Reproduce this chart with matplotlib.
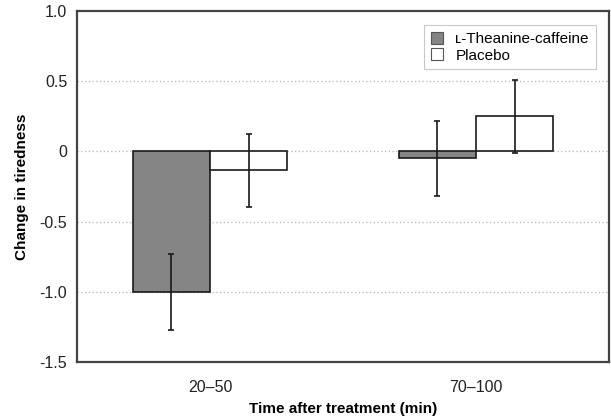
import matplotlib
matplotlib.use("Agg")
import matplotlib.pyplot as plt
import numpy as np

plt.rcParams['font.family'] = ['Liberation Sans', 'DejaVu Sans']

groups = ["20\u201350", "70\u2013100"]
series_names = ["\u029f-Theanine-caffeine", "Placebo"]
theanine = [-1.0, -0.05]
theanine_err = [0.27, 0.265]
placebo = [-0.135, 0.25]
placebo_err = [0.26, 0.26]

fig = plt.figure(figsize=(6.11, 4.19), dpi=100)
ax = fig.add_axes([77/611, 1 - 362/419, (609-77)/611, (362-11)/419])

x = np.arange(len(groups))
w = 0.29
ax.bar(x - w/2, theanine, w, color="#858585", edgecolor="#1a1a1a", linewidth=1.2,
       label=series_names[0], zorder=2)
ax.bar(x + w/2, placebo, w, color="white", edgecolor="#1a1a1a", linewidth=1.2,
       label=series_names[1], zorder=2)
ax.errorbar(x - w/2, theanine, yerr=theanine_err, fmt="none", ecolor="#1a1a1a",
            elinewidth=1.2, capsize=2, capthick=1.2, zorder=3)
ax.errorbar(x + w/2, placebo, yerr=placebo_err, fmt="none", ecolor="#1a1a1a",
            elinewidth=1.2, capsize=2, capthick=1.2, zorder=3)

ax.set_xlim(-0.5, 1.5)
ax.set_ylim(-1.5, 1.0)
ax.set_yticks([1.0, 0.5, 0, -0.5, -1.0, -1.5])
ax.set_yticklabels(["1.0", "0.5", "0", "-0.5", "-1.0", "-1.5"])
ax.set_xticks(x)
ax.set_xticklabels(groups)
ax.tick_params(axis="both", length=0, labelsize=11.5, colors="#222222")
ax.tick_params(axis="y", pad=7)
ax.tick_params(axis="x", pad=13)
for yv in [0.5, 0, -0.5, -1.0]:
    ax.axhline(yv, color="#b5b5b5", linestyle=(0, (1, 2)), linewidth=0.9, zorder=1)
for s in ax.spines.values():
    s.set_color("#444444")
    s.set_linewidth(1.6)

ax.set_ylabel("Change in tiredness", fontsize=11, fontweight="bold", labelpad=8)
ax.set_xlabel("Time after treatment (min)", fontsize=11, fontweight="bold", labelpad=5)

leg = ax.legend(loc="upper right", bbox_to_anchor=(0.975, 0.96), fontsize=11,
                frameon=True, fancybox=False, edgecolor="#bbbbbb",
                handlelength=0.8, handleheight=0.8, handletextpad=0.8,
                borderpad=0.45, labelspacing=0.15, borderaxespad=0.0)
leg.get_frame().set_linewidth(0.8)
for h in leg.legend_handles:
    h.set_linewidth(0.8)
    h.set_edgecolor("#555555")

fig.savefig("out.png", dpi=100)
